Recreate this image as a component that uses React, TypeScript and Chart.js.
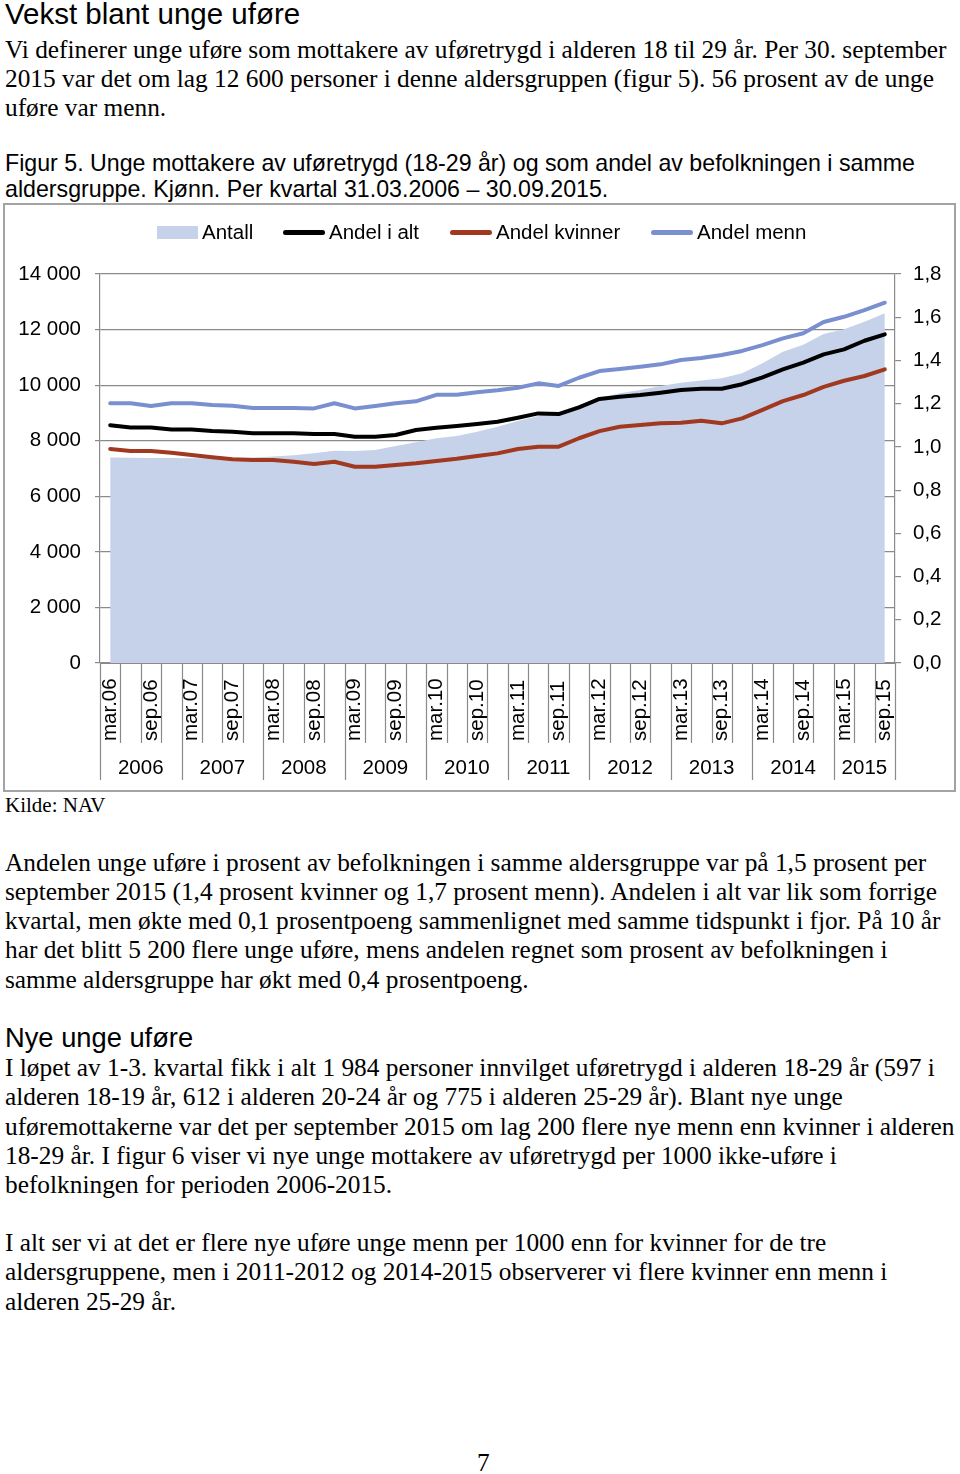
import React, { useEffect, useRef } from "react";
import { Chart, registerables } from "chart.js";

Chart.register(...registerables);

// ---------- DATA ----------
const quarterLabels = [
  "mar.06", "jun.06", "sep.06", "des.06",
  "mar.07", "jun.07", "sep.07", "des.07",
  "mar.08", "jun.08", "sep.08", "des.08",
  "mar.09", "jun.09", "sep.09", "des.09",
  "mar.10", "jun.10", "sep.10", "des.10",
  "mar.11", "jun.11", "sep.11", "des.11",
  "mar.12", "jun.12", "sep.12", "des.12",
  "mar.13", "jun.13", "sep.13", "des.13",
  "mar.14", "jun.14", "sep.14", "des.14",
  "mar.15", "jun.15", "sep.15",
];
const yearLabels = ["2006", "2007", "2008", "2009", "2010", "2011", "2012", "2013", "2014", "2015"];

const antall = [
  7400, 7390, 7380, 7380, 7370, 7370, 7380, 7400, 7430, 7480,
  7550, 7640, 7630, 7665, 7810, 7945, 8085, 8170, 8325, 8505,
  8710, 8890, 9030, 9285, 9535, 9705, 9825, 9970, 10090, 10170,
  10250, 10430, 10790, 11200, 11450, 11840, 12010, 12280, 12590,
];
const andelIAlt = [
  1.10, 1.09, 1.09, 1.08, 1.08, 1.073, 1.07, 1.063, 1.063, 1.063,
  1.06, 1.06, 1.047, 1.047, 1.055, 1.078, 1.089, 1.097, 1.106, 1.116,
  1.135, 1.155, 1.152, 1.183, 1.222, 1.232, 1.24, 1.251, 1.263, 1.269,
  1.269, 1.29, 1.322, 1.359, 1.39, 1.428, 1.451, 1.491, 1.521,
];
const andelKvinner = [
  0.99, 0.981, 0.981, 0.973, 0.962, 0.952, 0.943, 0.939, 0.939, 0.931,
  0.921, 0.931, 0.908, 0.908, 0.916, 0.924, 0.935, 0.945, 0.958, 0.97,
  0.99, 1.001, 1.001, 1.04, 1.073, 1.093, 1.101, 1.109, 1.112, 1.121,
  1.109, 1.132, 1.171, 1.212, 1.24, 1.278, 1.306, 1.328, 1.359,
];
const andelMenn = [
  1.202, 1.202, 1.189, 1.202, 1.202, 1.194, 1.19, 1.18, 1.18, 1.18,
  1.178, 1.202, 1.178, 1.189, 1.202, 1.211, 1.241, 1.241, 1.253, 1.262,
  1.274, 1.294, 1.282, 1.32, 1.351, 1.36, 1.371, 1.382, 1.402, 1.411,
  1.425, 1.444, 1.471, 1.502, 1.526, 1.578, 1.602, 1.633, 1.667,
];
const seriesNames = ["Antall", "Andel i alt", "Andel kvinner", "Andel menn"];

// ---------- TEXT ----------
const para1 = [
  "Vi definerer unge uføre som mottakere av uføretrygd i alderen 18 til 29 år. Per 30. september",
  "2015 var det om lag 12 600 personer i denne aldersgruppen (figur 5). 56 prosent av de unge",
  "uføre var menn.",
];
const caption = [
  "Figur 5. Unge mottakere av uføretrygd (18-29 år) og som andel av befolkningen i samme",
  "aldersgruppe. Kjønn. Per kvartal 31.03.2006 – 30.09.2015.",
];
const para2 = [
  "Andelen unge uføre i prosent av befolkningen i samme aldersgruppe var på 1,5 prosent per",
  "september 2015 (1,4 prosent kvinner og 1,7 prosent menn). Andelen i alt var lik som forrige",
  "kvartal, men økte med 0,1 prosentpoeng sammenlignet med samme tidspunkt i fjor. På 10 år",
  "har det blitt 5 200 flere unge uføre, mens andelen regnet som prosent av befolkningen i",
  "samme aldersgruppe har økt med 0,4 prosentpoeng.",
];
const para3 = [
  "I løpet av 1-3. kvartal fikk i alt 1 984 personer innvilget uføretrygd i alderen 18-29 år (597 i",
  "alderen 18-19 år, 612 i alderen 20-24 år og 775 i alderen 25-29 år). Blant nye unge",
  "uføremottakerne var det per september 2015 om lag 200 flere nye menn enn kvinner i alderen",
  "18-29 år. I figur 6 viser vi nye unge mottakere av uføretrygd per 1000 ikke-uføre i",
  "befolkningen for perioden 2006-2015.",
];
const para4 = [
  "I alt ser vi at det er flere nye uføre unge menn per 1000 enn for kvinner for de tre",
  "aldersgruppene, men i 2011-2012 og 2014-2015 observerer vi flere kvinner enn menn i",
  "alderen 25-29 år.",
];

// ---------- STYLE ----------
const AREA = "#c5d2e9";
const BLACK = "#000000";
const RED = "#a0391f";
const BLUE = "#7a8fd0";
const AXIS = "#8a8a8a";
const SANS = '"Liberation Sans", Arial, sans-serif';
const SERIF = '"Liberation Serif", "Times New Roman", serif';
const CHART_FONT = 20.5;
const BODY = 25.35;

const FONTS: any = {
  serif: { family: SERIF, asc: 0.891, desc: 0.216 },
  sans: { family: SANS, asc: 0.905, desc: 0.212 },
};

function TextLine({ x, baseline, size, kind, text }: any) {
  const f = FONTS[kind];
  const top = baseline - (size - (f.asc + f.desc) * size) / 2 - f.asc * size;
  return (
    <div
      style={{
        position: "absolute",
        left: x,
        top,
        fontFamily: f.family,
        fontSize: size,
        lineHeight: `${size}px`,
        whiteSpace: "nowrap",
        color: "#000",
      }}
    >
      {text}
    </div>
  );
}

const fmtThousands = (v: number) => String(v).replace(/\B(?=(\d{3})+(?!\d))/g, " ");

const xAxisPlugin = {
  id: "xAxisCustom",
  afterDraw(chart: any) {
    const { ctx, chartArea } = chart;
    const xs = chart.scales.x;
    const n = quarterLabels.length;
    const step = xs.getPixelForValue(1) - xs.getPixelForValue(0);
    const edge = (k: number) => xs.getPixelForValue(0) - step / 2 + k * step;
    const y0 = chartArea.bottom;
    ctx.save();
    ctx.strokeStyle = AXIS;
    ctx.lineWidth = 1.2;
    ctx.beginPath();
    ctx.moveTo(chartArea.left, y0 + 0.5);
    ctx.lineTo(chartArea.right, y0 + 0.5);
    for (let k = 0; k <= n; k++) {
      const x = Math.round(edge(k)) + 0.5;
      const len = k % 4 === 0 || k === n ? 117 : 80;
      ctx.moveTo(x, y0);
      ctx.lineTo(x, y0 + len);
    }
    ctx.stroke();

    ctx.fillStyle = "#000";
    ctx.font = `${CHART_FONT}px ${SANS}`;
    quarterLabels.forEach((lab, i) => {
      if (!(lab.startsWith("mar") || lab.startsWith("sep"))) return;
      const x = xs.getPixelForValue(i);
      ctx.save();
      ctx.translate(x, y0 + 78);
      ctx.rotate(-Math.PI / 2);
      ctx.textAlign = "left";
      ctx.textBaseline = "middle";
      ctx.fillText(lab, 0, 0);
      ctx.restore();
    });

    ctx.textAlign = "center";
    ctx.textBaseline = "middle";
    yearLabels.forEach((yr, j) => {
      const s = 4 * j;
      const e = Math.min(4 * j + 4, n);
      const cx = (edge(s) + edge(e)) / 2;
      ctx.fillText(yr, cx, y0 + 105);
    });
    ctx.restore();
  },
};

function ChartBox() {
  const ref = useRef<HTMLCanvasElement | null>(null);
  useEffect(() => {
    if (!ref.current) return;
    const chart = new Chart(ref.current, {
      type: "line",
      data: {
        labels: quarterLabels,
        datasets: [
          {
            label: seriesNames[0],
            data: antall,
            yAxisID: "y",
            fill: "origin",
            backgroundColor: AREA,
            borderColor: "rgba(0,0,0,0)",
            borderWidth: 0,
            pointRadius: 0,
            tension: 0,
            order: 10,
          },
          {
            label: seriesNames[1],
            data: andelIAlt,
            yAxisID: "y2",
            borderColor: BLACK,
            borderWidth: 4,
            pointRadius: 0,
            fill: false,
            tension: 0,
            borderCapStyle: "round",
            borderJoinStyle: "round",
            order: 1,
          },
          {
            label: seriesNames[2],
            data: andelKvinner,
            yAxisID: "y2",
            borderColor: RED,
            borderWidth: 4,
            pointRadius: 0,
            fill: false,
            tension: 0,
            borderCapStyle: "round",
            borderJoinStyle: "round",
            order: 2,
          },
          {
            label: seriesNames[3],
            data: andelMenn,
            yAxisID: "y2",
            borderColor: BLUE,
            borderWidth: 4,
            pointRadius: 0,
            fill: false,
            tension: 0,
            borderCapStyle: "round",
            borderJoinStyle: "round",
            order: 3,
          },
        ],
      } as any,
      options: {
        responsive: false,
        animation: false,
        devicePixelRatio: 1,
        layout: { padding: { top: 69, left: 0, right: 0, bottom: 0 } },
        plugins: {
          legend: { display: false },
          tooltip: { enabled: false },
        },
        scales: {
          x: {
            type: "category",
            offset: true,
            grid: { display: false },
            border: { display: false },
            ticks: { display: false },
            afterFit: (s: any) => {
              s.height = 127;
            },
          },
          y: {
            position: "left",
            min: 0,
            max: 14000,
            ticks: {
              stepSize: 2000,
              color: "#000",
              font: { family: SANS, size: CHART_FONT },
              padding: 14,
              callback: (v: any) => fmtThousands(Number(v)),
            },
            grid: { color: AXIS, lineWidth: 1.2, tickLength: 5 },
            border: { display: true, color: AXIS, width: 1.2 },
            afterFit: (s: any) => {
              s.width = 95;
            },
          },
          y2: {
            position: "right",
            min: 0,
            max: 1.8,
            ticks: {
              stepSize: 0.2,
              color: "#000",
              font: { family: SANS, size: CHART_FONT },
              padding: 12,
              callback: (v: any) => Number(v).toFixed(1).replace(".", ","),
            },
            grid: { drawOnChartArea: false, color: AXIS, lineWidth: 1.2, tickLength: 6 },
            border: { display: true, color: AXIS, width: 1.2 },
            afterFit: (s: any) => {
              s.width = 59;
            },
          },
        },
      } as any,
      plugins: [xAxisPlugin],
    });
    return () => chart.destroy();
  }, []);

  const legendText = (left: number, text: string) => (
    <TextLine x={left} baseline={239.3} size={CHART_FONT} kind="sans" text={text} />
  );
  const legendLine = (left: number, color: string) => (
    <div
      style={{
        position: "absolute",
        left,
        top: 230,
        width: 42,
        height: 5,
        borderRadius: 2.5,
        background: color,
      }}
    />
  );

  return (
    <>
      <div
        style={{
          position: "absolute",
          left: 3,
          top: 203,
          width: 953,
          height: 589,
          boxSizing: "border-box",
          border: "2px solid #a3a3a3",
        }}
      />
      <canvas
        ref={ref}
        width={949}
        height={585}
        style={{ position: "absolute", left: 5, top: 205, width: 949, height: 585 }}
      />
      <div style={{ position: "absolute", left: 157, top: 226, width: 41, height: 13, background: AREA }} />
      {legendText(202, seriesNames[0])}
      {legendLine(283, BLACK)}
      {legendText(329, seriesNames[1])}
      {legendLine(450, RED)}
      {legendText(496, seriesNames[2])}
      {legendLine(651, BLUE)}
      {legendText(697, seriesNames[3])}
    </>
  );
}

export default function App() {
  const lh = 29.2;
  return (
    <div
      style={{
        position: "absolute",
        left: 0,
        top: 0,
        width: 960,
        height: 1474,
        overflow: "hidden",
        background: "#fff",
      }}
    >
      <TextLine x={5} baseline={23.5} size={29.5} kind="sans" text="Vekst blant unge uføre" />
      {para1.map((t, i) => (
        <TextLine key={"p1" + i} x={5} baseline={58.3 + i * lh} size={BODY} kind="serif" text={t} />
      ))}
      {caption.map((t, i) => (
        <TextLine key={"c" + i} x={5} baseline={171.5 + i * 26.5} size={23.2} kind="sans" text={t} />
      ))}
      <ChartBox />
      <TextLine x={5} baseline={813} size={21} kind="serif" text="Kilde: NAV" />
      {para2.map((t, i) => (
        <TextLine key={"p2" + i} x={5} baseline={871 + i * lh} size={BODY} kind="serif" text={t} />
      ))}
      <TextLine x={5} baseline={1047} size={27.3} kind="sans" text="Nye unge uføre" />
      {para3.map((t, i) => (
        <TextLine key={"p3" + i} x={5} baseline={1076.5 + i * lh} size={BODY} kind="serif" text={t} />
      ))}
      {para4.map((t, i) => (
        <TextLine key={"p4" + i} x={5} baseline={1251.5 + i * lh} size={BODY} kind="serif" text={t} />
      ))}
      <TextLine x={477} baseline={1471} size={BODY} kind="serif" text="7" />
    </div>
  );
}
